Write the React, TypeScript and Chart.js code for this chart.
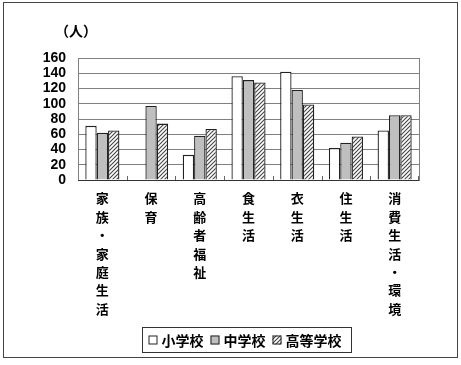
import React, { useEffect, useRef } from "react";
import { Chart, registerables } from "chart.js";

Chart.register(...registerables);

const categories: string[][] = [
  ["家", "族", "・", "家", "庭", "生", "活"],
  ["保", "育"],
  ["高", "齢", "者", "福", "祉"],
  ["食", "生", "活"],
  ["衣", "生", "活"],
  ["住", "生", "活"],
  ["消", "費", "生", "活", "・", "環", "境"],
];
const seriesNames = ["小学校", "中学校", "高等学校"];
const elementary = [71, 0, 33, 136, 142, 42, 65];
const juniorHigh = [62, 97, 58, 131, 118, 49, 85];
const highSchool = [65, 74, 67, 128, 99, 57, 85];
const yTicks = [0, 20, 40, 60, 80, 100, 120, 140, 160];
const unitLabel = "（人）";

const JP = "'Noto Sans CJK JP', 'Noto Sans', sans-serif";
const NUM = "'Liberation Sans', Arial, sans-serif";

function makeHatch(): CanvasPattern | string {
  const c = document.createElement("canvas");
  const s = 4;
  c.width = s;
  c.height = s;
  const g = c.getContext("2d");
  if (!g) return "#fff";
  g.fillStyle = "#ffffff";
  g.fillRect(0, 0, s, s);
  g.strokeStyle = "#444444";
  g.lineWidth = 1.1;
  g.beginPath();
  g.moveTo(-1, s + 1);
  g.lineTo(s + 1, -1);
  g.moveTo(-1, 1);
  g.lineTo(1, -1);
  g.moveTo(s - 1, s + 1);
  g.lineTo(s + 1, s - 1);
  g.stroke();
  const p = g.createPattern(c, "repeat");
  return p || "#fff";
}

export default function App() {
  const ref = useRef<HTMLCanvasElement | null>(null);

  useEffect(() => {
    if (!ref.current) return;
    const hatch = makeHatch();
    const fills: any[] = ["#ffffff", "#bfbfbf", hatch];
    const values = [elementary, juniorHigh, highSchool];

    const decor = {
      id: "decor",
      beforeDraw(chart: any) {
        const ctx = chart.ctx;
        ctx.save();
        ctx.fillStyle = "#ffffff";
        ctx.fillRect(0, 0, chart.width, chart.height);
        ctx.restore();
      },
      afterDraw(chart: any) {
        const ctx = chart.ctx;
        const area = chart.chartArea;
        const xs = chart.scales.x;
        ctx.save();
        // outer frame
        ctx.strokeStyle = "#444";
        ctx.lineWidth = 1;
        ctx.strokeRect(3.5, 2.5, 454, 355);
        // plot border
        ctx.strokeStyle = "#808080";
        ctx.strokeRect(area.left + 0.5, area.top + 0.5, area.right - area.left, area.bottom - area.top);
        // bottom axis
        ctx.strokeStyle = "#333";
        ctx.beginPath();
        ctx.moveTo(area.left, area.bottom + 0.5);
        ctx.lineTo(area.right, area.bottom + 0.5);
        ctx.stroke();
        // inner ticks between categories
        ctx.strokeStyle = "#666";
        ctx.beginPath();
        for (let i = 1; i <= categories.length; i++) {
          const x =
            i < categories.length
              ? Math.round((xs.getPixelForTick(i - 1) + xs.getPixelForTick(i)) / 2) + 0.5
              : area.right - 0.5;
          ctx.moveTo(x, area.bottom);
          ctx.lineTo(x, area.bottom - 4);
        }
        ctx.stroke();
        // unit label
        ctx.fillStyle = "#000";
        ctx.font = `bold 14px ${JP}`;
        ctx.textAlign = "center";
        ctx.textBaseline = "middle";
        ctx.fillText(unitLabel, area.left - 2, 31);
        // legend
        const lx = 142.5, ly = 327.5, lw = 209, lh = 25;
        ctx.strokeStyle = "#333";
        ctx.strokeRect(lx, ly, lw, lh);
        ctx.font = `bold 14px ${JP}`;
        ctx.textAlign = "left";
        let x = lx + 6;
        const cy = ly + lh / 2;
        chart.data.datasets.forEach((ds: any) => {
          ctx.fillStyle = ds.backgroundColor;
          ctx.fillRect(x, cy - 4.5, 9, 9);
          ctx.strokeStyle = "#222";
          ctx.strokeRect(x + 0.5, cy - 4, 8, 8);
          x += 13;
          ctx.fillStyle = "#000";
          ctx.fillText(ds.label, x, cy + 0.5);
          x += ctx.measureText(ds.label).width + 7;
        });
        ctx.restore();
      },
    };

    const chart = new Chart(ref.current, {
      type: "bar",
      data: {
        labels: categories,
        datasets: seriesNames.map((name, i) => ({
          label: name,
          data: values[i],
          backgroundColor: fills[i],
          borderColor: "#222",
          borderWidth: 1.3,
          borderSkipped: "bottom",
          categoryPercentage: 0.7,
          barPercentage: 1.0,
        })),
      },
      options: {
        animation: false,
        responsive: false,
        devicePixelRatio: 1,
        layout: { padding: { left: 0, right: 42, top: 58, bottom: 35 } },
        plugins: {
          legend: { display: false },
          tooltip: { enabled: false },
          title: { display: false },
        },
        scales: {
          x: {
            grid: { display: false, drawTicks: false },
            border: { display: false },
            ticks: {
              color: "#000",
              font: { family: JP, size: 13, weight: "bold", lineHeight: 1.42 },
              padding: 9,
              maxRotation: 0,
              minRotation: 0,
              autoSkip: false,
            },
            afterFit: (s: any) => {
              s.height = 150;
            },
          },
          y: {
            min: 0,
            max: 160,
            afterBuildTicks: (s: any) => {
              s.ticks = yTicks.map((v) => ({ value: v }));
            },
            grid: { color: "#808080", lineWidth: 1, drawTicks: false },
            border: { display: false },
            ticks: {
              color: "#000",
              autoSkip: false,
              font: { family: NUM, size: 14, weight: "bold", lineHeight: 1 },
              padding: 12,
            },
            afterFit: (s: any) => {
              s.width = 78;
            },
          },
        },
      },
      plugins: [decor],
    });
    return () => chart.destroy();
  }, []);

  return (
    <div style={{ position: "absolute", left: 0, top: 0, width: 461, height: 365 }}>
      <canvas ref={ref} width={461} height={365} style={{ display: "block" }} />
    </div>
  );
}
